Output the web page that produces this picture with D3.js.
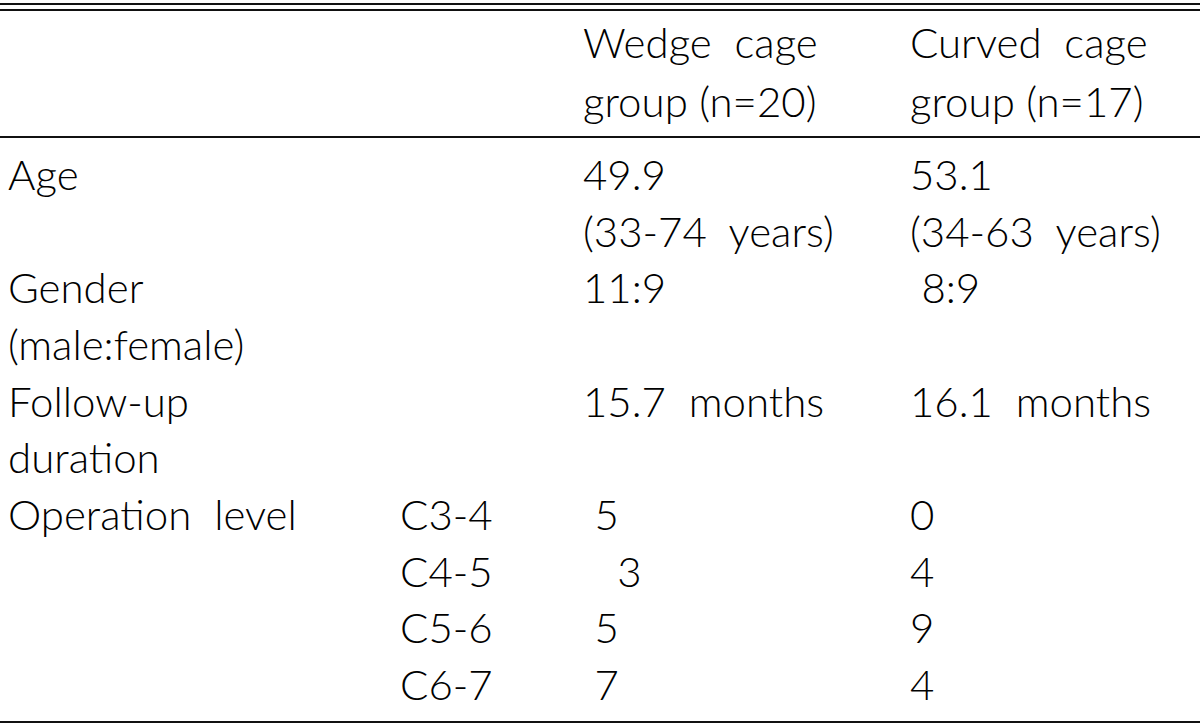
<!DOCTYPE html>
<html>
<head>
<meta charset="utf-8">
<script src="https://cdn.jsdelivr.net/npm/d3@7"></script>
<style>
  html, body { margin: 0; padding: 0; background: #fff; }
  svg text { font-family: Lato, "Noto Sans", sans-serif; font-size: 42px; font-weight: 300; fill: #000; white-space: pre; }
</style>
</head>
<body>
<svg id="chart" width="1200" height="725"></svg>
<script>
// ---- data ----
const columnKeys = ["label", "level", "wedge", "curved"];
const headerWedge = ["Wedge  cage", "group (n=20)"];
const headerCurved = ["Curved  cage", "group (n=17)"];
const rowLabels = ["Age", "", "Gender", "(male:female)", "Follow-up", "duration", "Operation  level", "", "", ""];
const levels = ["", "", "", "", "", "", "C3-4", "C4-5", "C5-6", "C6-7"];
const wedgeValues = ["49.9", "(33-74  years)", "11:9", "", "15.7  months", "", " 5", "   3", " 5", " 7"];
const curvedValues = ["53.1", "(34-63  years)", " 8:9", "", "16.1  months", "", "0", "4", "9", "4"];

// ---- layout ----
const W = 1200, H = 725;
const svg = d3.select("#chart");

const x = d3.scaleOrdinal().domain(columnKeys).range([8, 400, 583, 910]);
const headerY = d3.scalePoint().domain([0, 1]).range([58, 117]);
const rowIdx = d3.range(rowLabels.length);
const y = d3.scaleLinear().domain([0, rowLabels.length - 1]).range([190, 700]);

// rules
const rules = [
  { y: 4, w: 2 },
  { y: 10, w: 2 },
  { y: 137, w: 2 },
  { y: 722, w: 2 }
];
svg.selectAll("line.rule").data(rules).join("line")
  .attr("class", "rule")
  .attr("x1", 0).attr("x2", W)
  .attr("y1", d => d.y).attr("y2", d => d.y)
  .attr("stroke", "#111").attr("stroke-width", d => d.w);

// header
const header = svg.append("g");
header.selectAll("text.hw").data(headerWedge).join("text")
  .attr("class", "hw")
  .attr("x", x("wedge")).attr("y", (d, i) => headerY(i)).text(d => d);
header.selectAll("text.hc").data(headerCurved).join("text")
  .attr("class", "hc")
  .attr("x", x("curved")).attr("y", (d, i) => headerY(i)).text(d => d);

// body
const rows = rowIdx.map(i => ({
  label: rowLabels[i], level: levels[i], wedge: wedgeValues[i], curved: curvedValues[i], i
}));
const body = svg.append("g");
columnKeys.forEach(k => {
  body.selectAll("text.c-" + k).data(rows.filter(r => r[k] !== "")).join("text")
    .attr("class", "c-" + k)
    .attr("x", x(k))
    .attr("y", r => y(r.i))
    .text(r => r[k]);
});
</script>
</body>
</html>
